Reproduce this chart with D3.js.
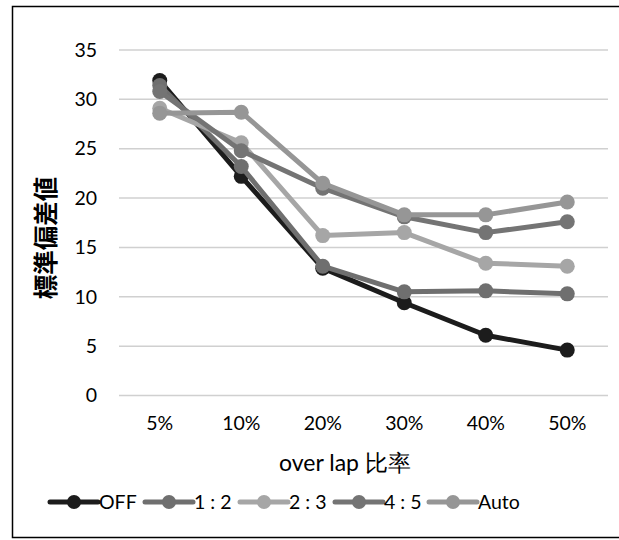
<!DOCTYPE html>
<html><head><meta charset="utf-8">
<script src="https://cdn.jsdelivr.net/npm/d3@7"></script>
<style>body{margin:0;background:#fff}svg{display:block}</style>
</head><body>
<script>
const categories = ["5%","10%","20%","30%","40%","50%"];
const seriesNames = ["OFF","1:2","2:3","4:5","Auto"];
const offValues  = [31.9, 22.2, 12.9, 9.4, 6.1, 4.6];
const r12Values  = [31.4, 23.2, 13.1, 10.5, 10.6, 10.3];
const r23Values  = [29.1, 25.6, 16.2, 16.5, 13.4, 13.1];
const r45Values  = [30.8, 24.8, 21.0, 18.1, 16.5, 17.6];
const autoValues = [28.6, 28.7, 21.5, 18.3, 18.3, 19.6];
const yTicks = [0,5,10,15,20,25,30,35];
const colors = ["#1c1c1c","#6f6f6f","#a6a6a6","#747474","#969696"];

const series = [offValues, r12Values, r23Values, r45Values, autoValues]
  .map((v,i)=>({name:seriesNames[i], values:v, color:colors[i]}));

const W=619,H=540;
const svg=d3.select("body").append("svg").attr("width",W).attr("height",H);
const font="Lato, 'Noto Sans', sans-serif";

svg.append("rect").attr("x",12.5).attr("y",6.5).attr("width",W).attr("height",531)
  .attr("fill","#fff").attr("stroke","#000").attr("stroke-width",1.5);

const x=d3.scaleBand().domain(categories).range([119,608]);
const y=d3.scaleLinear().domain([0,35]).range([395.5,50]);

// gridlines
svg.append("g").selectAll("line").data(yTicks).join("line")
  .attr("x1",119).attr("x2",608).attr("y1",d=>y(d)).attr("y2",d=>y(d))
  .attr("stroke","#d0d0d0").attr("stroke-width",1.5);

// y axis
const ya=svg.append("g").attr("transform","translate(119,0)")
  .call(d3.axisLeft(y).tickValues(yTicks).tickSize(0).tickPadding(22));
ya.select(".domain").remove();
ya.selectAll("text").attr("font-family",font).attr("font-size",19.5).attr("fill","#000");

// x axis
const xa=svg.append("g").attr("transform","translate(0,395.5)")
  .call(d3.axisBottom(x).tickSize(0).tickPadding(21));
xa.select(".domain").remove();
xa.selectAll("text").attr("font-family",font).attr("font-size",19.5).attr("fill","#000");

// titles
svg.append("text").attr("x",345).attr("y",471).attr("text-anchor","middle")
  .attr("font-family",font).attr("font-size",23).attr("fill","#000").text("over lap 比率");
svg.append("text").attr("transform","translate(55,238) rotate(-90)").attr("text-anchor","middle")
  .attr("font-family","'Noto Sans CJK JP', sans-serif").attr("font-weight","bold")
  .attr("font-size",24.5).attr("fill","#000").text("標準偏差値");

// lines
const line=d3.line().x((d,i)=>x(categories[i])+x.bandwidth()/2).y(d=>y(d));
const g=svg.append("g");
series.forEach(s=>{
  const sg=g.append("g");
  sg.append("path").attr("d",line(s.values)).attr("fill","none")
    .attr("stroke",s.color).attr("stroke-width",5).attr("stroke-linejoin","round").attr("stroke-linecap","round");
  sg.selectAll("circle").data(s.values).join("circle")
    .attr("cx",(d,i)=>x(categories[i])+x.bandwidth()/2).attr("cy",d=>y(d))
    .attr("r",7.5).attr("fill",s.color);
});

// legend
const legX=[50,145,240,335,429];
const lg=svg.append("g");
series.forEach((s,i)=>{
  const it=lg.append("g").attr("transform",`translate(${legX[i]},502)`);
  it.append("line").attr("x1",0).attr("x2",48).attr("stroke",s.color).attr("stroke-width",5).attr("stroke-linecap","round");
  it.append("circle").attr("cx",24).attr("r",7).attr("fill",s.color);
  it.append("text").attr("x",49).attr("y",7).attr("font-family",font).attr("font-size",19.5)
    .attr("fill","#000").text(s.name.replace(":", " : "));
});
</script>
</body></html>
